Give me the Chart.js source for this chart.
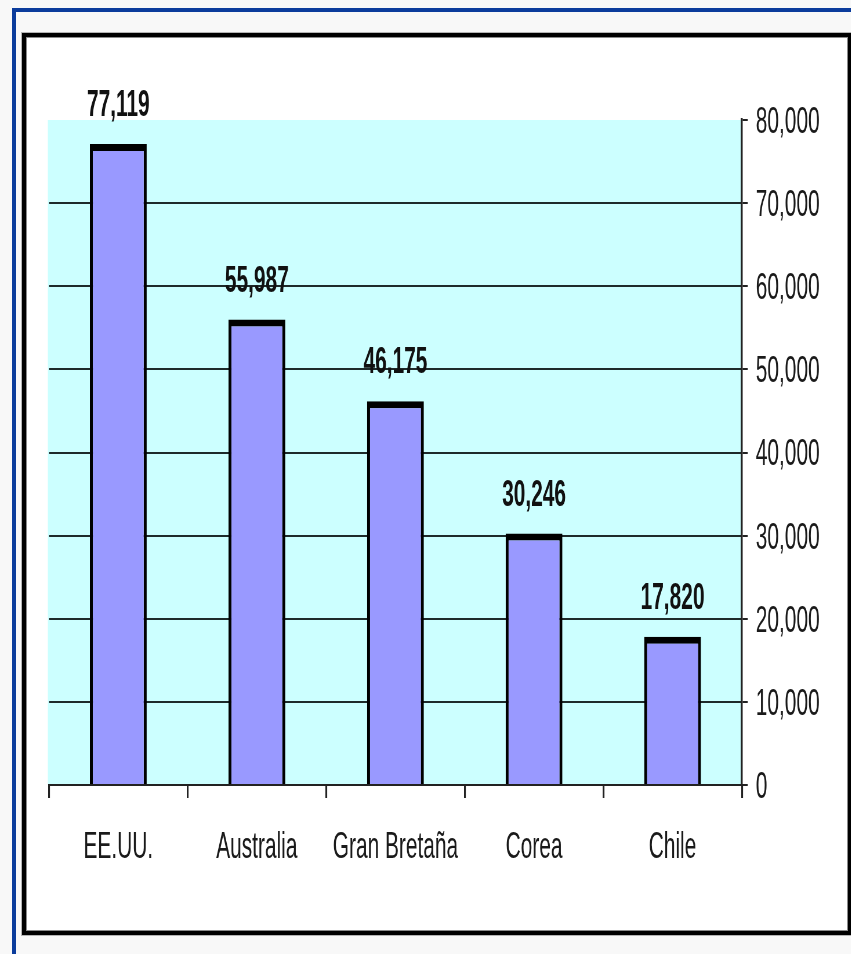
<!DOCTYPE html>
<html><head><meta charset="utf-8">
<script src="https://cdn.jsdelivr.net/npm/chart.js@4.4.0/dist/chart.umd.min.js"></script>
<style>
html,body{margin:0;padding:0;width:851px;height:954px;overflow:hidden;background:#f8f8f8;}
#blue{position:absolute;left:12px;top:8px;width:900px;height:1000px;border-top:4px solid #0b3c9c;border-left:4px solid #0b3c9c;box-sizing:border-box;}
#frame{position:absolute;left:22px;top:33px;width:830px;height:902px;border:4px solid #000;background:#fff;box-sizing:border-box;box-shadow:0 0 0 1px #b4b4b4, inset 0 0 0 1px #8a8a8a;}
#wrap{position:absolute;left:0;top:0;transform-origin:0 0;}
</style></head><body>
<div id="blue"></div><div id="frame"></div>
<div id="wrap"><canvas id="c"></canvas></div>
<script>
// ---- data ----
const categories = ['EE.UU.', 'Australia', 'Gran Bretaña', 'Corea', 'Chile'];
const values = [77119, 55987, 46175, 30246, 17820];
const yTickValues = [0, 10000, 20000, 30000, 40000, 50000, 60000, 70000, 80000];

// ---- layout (display px) ----
const S = 0.58;                 // horizontal condensing of the whole picture
const PAGE_W = 851, PAGE_H = 954;
const W = PAGE_W / S;
const PLOT_L = 49, PLOT_R = 742, PLOT_T = 120, PLOT_B = 785;
const FONT = '"Liberation Sans", Arial, sans-serif';

const wrap = document.getElementById('wrap');
wrap.style.width = W + 'px';
wrap.style.height = PAGE_H + 'px';
wrap.style.transform = 'scaleX(' + S + ')';
const canvas = document.getElementById('c');
canvas.width = W; canvas.height = PAGE_H;
canvas.style.width = W + 'px'; canvas.style.height = PAGE_H + 'px';

const fmt = v => Number(v).toLocaleString('en-US');

const bgPlugin = {
  id: 'plotBg',
  beforeDraw(chart) {
    const a = chart.chartArea, c = chart.ctx;
    c.save();
    c.fillStyle = '#CCFFFF';
    c.fillRect(a.left - 2, a.top, a.right - a.left + 2, a.bottom - a.top);
    c.restore();
  }
};
const labelPlugin = {
  id: 'valueLabels',
  afterDatasetsDraw(chart) {
    const c = chart.ctx;
    const meta = chart.getDatasetMeta(0);
    c.save();
    c.font = 'bold 36px ' + FONT;
    c.fillStyle = '#111';
    c.textAlign = 'center';
    c.textBaseline = 'alphabetic';
    meta.data.forEach((bar, i) => {
      c.fillText(fmt(values[i]), bar.x, bar.y - 28);
    });
    c.restore();
  }
};

new Chart(canvas, {
  type: 'bar',
  data: {
    labels: categories,
    datasets: [{
      data: values,
      backgroundColor: '#9999FF',
      borderColor: '#000',
      borderWidth: {top: 7, left: 3 / S, right: 3 / S, bottom: 0},
      borderSkipped: 'bottom',
      barPercentage: 0.41,
      categoryPercentage: 1.0
    }]
  },
  options: {
    responsive: false,
    animation: false,
    devicePixelRatio: 1,
    layout: {padding: {left: PLOT_L / S, top: PLOT_T, right: 0, bottom: 0}, autoPadding: false},
    plugins: {legend: {display: false}, tooltip: {enabled: false}},
    scales: {
      x: {
        type: 'category',
        grid: {offset: true, drawOnChartArea: false, drawTicks: true, tickLength: 13, color: '#222', lineWidth: 1.8 / S},
        border: {display: true, color: '#222', width: 2},
        ticks: {font: {family: FONT, size: 36}, color: '#1a1a1a', padding: 28, maxRotation: 0, autoSkip: false},
        afterFit: s => { s.height = PAGE_H - PLOT_B; }
      },
      y: {
        position: 'right',
        min: 0, max: 80000,
        afterBuildTicks: s => { s.ticks = yTickValues.map(v => ({value: v})); },
        grid: {
          drawTicks: true, tickLength: 10,
          color: ctx => (ctx.tick && ctx.tick.value === 80000) ? 'rgba(0,0,0,0)' : '#1e2a2a',
          tickColor: '#222', lineWidth: 2
        },
        border: {display: true, color: '#222', width: 2 / S},
        ticks: {font: {family: FONT, size: 36}, color: '#1a1a1a', padding: 14, labelOffset: 3, callback: v => fmt(v)},
        afterFit: s => { s.width = W - PLOT_R / S; }
      }
    }
  },
  plugins: [bgPlugin, labelPlugin]
});
</script>
</body></html>
